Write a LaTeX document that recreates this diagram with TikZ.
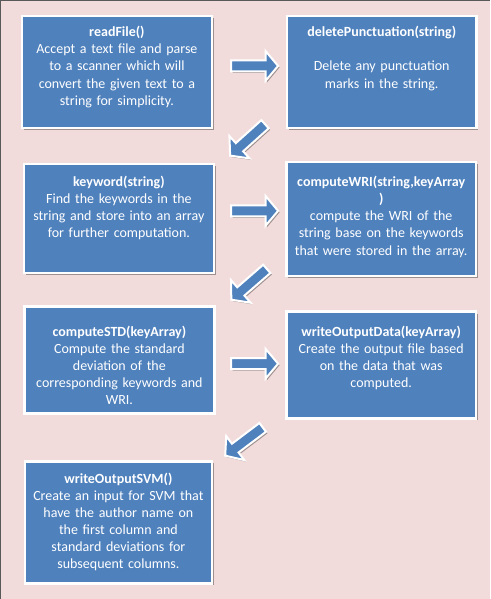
\documentclass[tikz,border=0pt]{standalone}
\usepackage{fontspec}
\setmainfont{Carlito}
\usepackage{tikz}
\usetikzlibrary{calc}
\usetikzlibrary{shadows}
\usetikzlibrary{shapes.arrows}
\usepackage{color}
\definecolor{officeblue}{RGB}{79, 129, 189}
\definecolor{palerose}{RGB}{242, 220, 219}

\tikzset{
  funcbox/.style={draw=white, line width=2.5pt, fill=officeblue, minimum width=190pt, inner sep=0pt,
    drop shadow={shadow xshift=1.8pt, shadow yshift=-1.8pt, fill=black, opacity=0.35}},
  functext/.style={text=white, align=center, text width=186pt, inner sep=0pt, anchor=north,
    font=\fontsize{14}{17.1}\selectfont},
  flowarrow/.style={single arrow, draw=white, line width=2pt, fill=officeblue, inner sep=4.5pt,
    minimum height=47pt, single arrow head extend=9.5pt, single arrow tip angle=100,
    drop shadow={shadow xshift=1.5pt, shadow yshift=-1.5pt, fill=black, opacity=0.35}}
}

\begin{document}
\begin{tikzpicture}[x=1pt, y=-1pt]
            % Background & frame
            \fill[color=palerose]                                             (0, 0) rectangle (490, 599);
            \draw[color=black!65, line width=1pt]                             (1, 599) -- (1, 0.5) -- (490, 0.5);
            \useasboundingbox                                                 (0, 0) rectangle (490, 599);
            % Boxes
            \node[funcbox, minimum height=112pt] (read)    at (117.0,  72.0) {};
            \node[funcbox, minimum height=112pt] (punct)   at (382.0,  72.0) {};
            \node[funcbox, minimum height=109pt] (keyword) at (119.0, 218.5) {};
            \node[funcbox, minimum height=114pt] (wri)     at (381.5, 219.0) {};
            \node[funcbox, minimum height=107pt] (std)     at (119.5, 360.5) {};
            \node[funcbox, minimum height=107pt] (output)  at (381.5, 365.5) {};
            \node[funcbox, minimum height=122pt, minimum width=187pt] (svm) at (118.5, 523.0) {};
            % Box texts
            \node[functext] (readtxt)    at ([yshift=-11.5pt]read.north)
                 {\textbf{readFile()}\\Accept a text file and parse\\to a scanner which will\\convert the given text to a\\string for simplicity.};
            \node[functext] (puncttxt)   at ([yshift=-11.5pt]punct.north)
                 {\textbf{deletePunctuation(string)}\\[17.1pt]Delete any punctuation\\marks in the string.};
            \node[functext] (keywordtxt) at ([yshift=-13.5pt]keyword.north)
                 {\textbf{keyword(string)}\\Find the keywords in the\\string and store into an array\\for further computation.};
            \node[functext] (writxt)     at ([yshift=-15.5pt]wri.north)
                 {\textbf{computeWRI(string,keyArray}\\\textbf{)}\\compute the WRI of the\\string base on the keywords\\that were stored in the array.};
            \node[functext] (stdtxt)     at ([yshift=-20.5pt]std.north)
                 {\textbf{computeSTD(keyArray)}\\Compute the standard\\deviation of the\\corresponding keywords and\\WRI.};
            \node[functext] (outputtxt)  at ([yshift=-15.5pt]output.north)
                 {\textbf{writeOutputData(keyArray)}\\Create the output file based\\on the data that was\\computed.};
            \node[functext] (svmtxt)     at ([yshift=-12.5pt]svm.north)
                 {\textbf{writeOutputSVM()}\\Create an input for SVM that\\have the author name on\\the first column and\\standard deviations for\\subsequent columns.};
            % Arrows between the boxes
            \node[flowarrow]             (readpunct)  at (252.5,  66.0) {};
            \node[flowarrow, rotate=222] (punctkey)   at (249.5, 138.5) {};
            \node[flowarrow]             (keywri)     at (252.5, 211.0) {};
            \node[flowarrow, rotate=221] (wristd)     at (251.0, 283.0) {};
            \node[flowarrow]             (stdoutput)  at (252.5, 364.0) {};
            \node[flowarrow, rotate=217] (outputsvm)  at (246.0, 440.5) {};
\end{tikzpicture}
\end{document}
